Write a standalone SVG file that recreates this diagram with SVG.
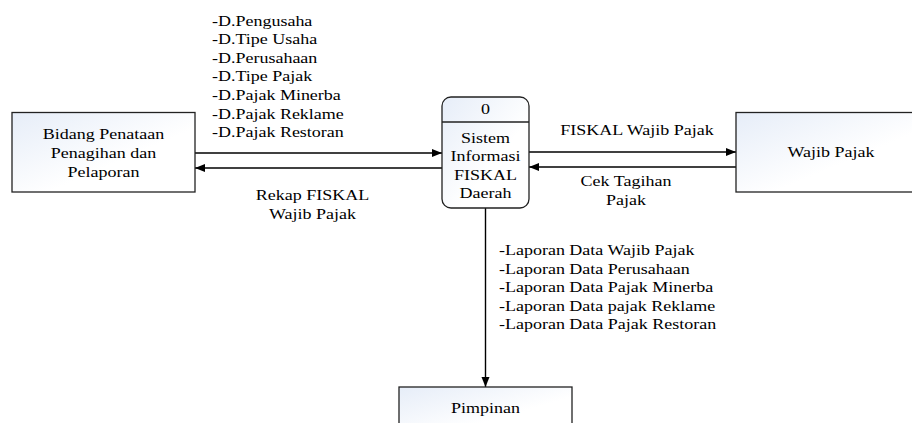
<svg xmlns="http://www.w3.org/2000/svg" width="912" height="423" viewBox="0 0 912 423" font-family="Liberation Serif, Times New Roman, serif" font-size="15">
<style>
  text { fill: #000; }
  .c { text-anchor: middle; }
  .box { fill: url(#g); stroke: #222; stroke-width: 1.3; }
  .ln { stroke: #000; stroke-width: 1.4; fill: none; marker-end: url(#ah); }
</style>
<defs>
  <linearGradient id="g" x1="0" y1="0" x2="1" y2="1">
    <stop offset="0" stop-color="#e6edf8"/>
    <stop offset="0.6" stop-color="#ffffff"/>
  </linearGradient>
  <marker id="ah" viewBox="0 0 10 10" refX="10" refY="5" markerWidth="10" markerHeight="10" markerUnits="userSpaceOnUse" orient="auto">
    <path d="M0,1 L10,5 L0,9 z" fill="#000"/>
  </marker>
</defs>

<g id="connectors">
  <line class="ln" x1="195" y1="153" x2="442" y2="153"/>
  <line class="ln" x1="442" y1="168" x2="195" y2="168"/>
  <line class="ln" x1="529" y1="152" x2="736" y2="152"/>
  <line class="ln" x1="736" y1="167" x2="529" y2="167"/>
  <line class="ln" x1="485.5" y1="208" x2="485.5" y2="387"/>
</g>

<g id="labels" font-family="Liberation Serif">
  <text transform="matrix(1.2 0 0 1 212 25.5)">-D.Pengusaha</text>
  <text transform="matrix(1.2 0 0 1 212 44.1)">-D.Tipe Usaha</text>
  <text transform="matrix(1.2 0 0 1 212 62.7)">-D.Perusahaan</text>
  <text transform="matrix(1.2 0 0 1 212 81.3)">-D.Tipe Pajak</text>
  <text transform="matrix(1.2 0 0 1 212 99.9)">-D.Pajak Minerba</text>
  <text transform="matrix(1.2 0 0 1 212 118.5)">-D.Pajak Reklame</text>
  <text transform="matrix(1.2 0 0 1 212 137.1)">-D.Pajak Restoran</text>
  <text class="c" transform="matrix(1.2 0 0 1 312.5 200)">Rekap FISKAL</text>
  <text class="c" transform="matrix(1.2 0 0 1 312.5 218.6)">Wajib Pajak</text>
  <text class="c" transform="matrix(1.2 0 0 1 637 135)">FISKAL Wajib Pajak</text>
  <text class="c" transform="matrix(1.2 0 0 1 626 186)">Cek Tagihan</text>
  <text class="c" transform="matrix(1.2 0 0 1 626 204.5)">Pajak</text>
  <text transform="matrix(1.2 0 0 1 499 255)">-Laporan Data Wajib Pajak</text>
  <text transform="matrix(1.2 0 0 1 499 273.6)">-Laporan Data Perusahaan</text>
  <text transform="matrix(1.2 0 0 1 499 292.2)">-Laporan Data Pajak Minerba</text>
  <text transform="matrix(1.2 0 0 1 499 310.8)">-Laporan Data pajak Reklame</text>
  <text transform="matrix(1.2 0 0 1 499 329.4)">-Laporan Data Pajak Restoran</text>
</g>

<g id="bidang" font-family="Liberation Serif">
  <rect class="box" x="12" y="112.5" width="183" height="79.5"/>
  <text class="c" transform="matrix(1.2 0 0 1 103.5 139.3)">Bidang Penataan</text>
  <text class="c" transform="matrix(1.2 0 0 1 103.5 157.9)">Penagihan dan</text>
  <text class="c" transform="matrix(1.2 0 0 1 103.5 176.5)">Pelaporan</text>
</g>

<g id="proses" font-family="Liberation Serif">
  <rect class="box" x="442" y="97" width="87" height="111" rx="9" ry="9"/>
  <line x1="442" y1="122" x2="529" y2="122" stroke="#222" stroke-width="1.3"/>
  <text class="c" transform="matrix(1.2 0 0 1 485.5 114.3)">0</text>
  <text class="c" transform="matrix(1.2 0 0 1 485.5 142.5)">Sistem</text>
  <text class="c" transform="matrix(1.2 0 0 1 485.5 161.1)">Informasi</text>
  <text class="c" transform="matrix(1.2 0 0 1 485.5 179.7)">FISKAL</text>
  <text class="c" transform="matrix(1.2 0 0 1 485.5 198.3)">Daerah</text>
</g>

<g id="wajib" font-family="Liberation Serif">
  <rect class="box" x="736" y="112.5" width="190" height="79.5"/>
  <text class="c" transform="matrix(1.2 0 0 1 831 157.3)">Wajib Pajak</text>
</g>

<g id="pimpinan" font-family="Liberation Serif">
  <rect class="box" x="399" y="387" width="173" height="50"/>
  <text class="c" transform="matrix(1.2 0 0 1 485.5 412.7)">Pimpinan</text>
</g>
</svg>
